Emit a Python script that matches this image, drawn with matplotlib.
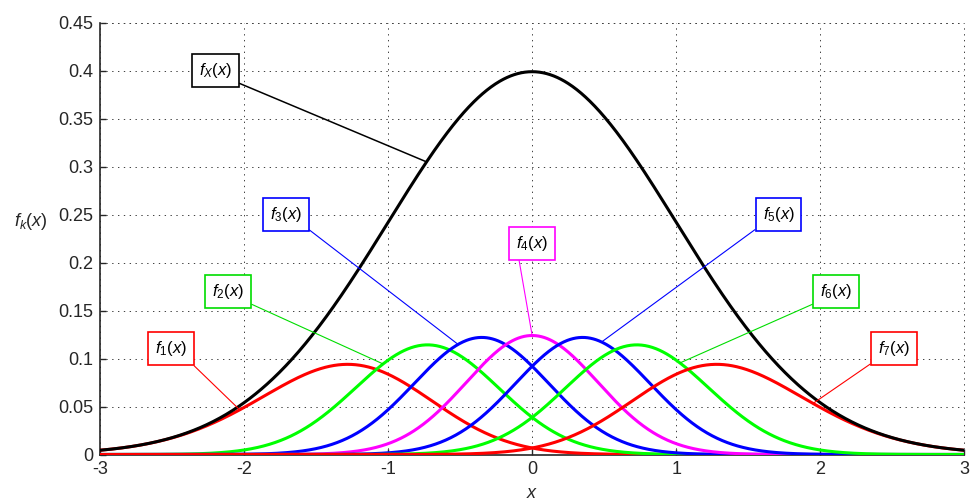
import math
import numpy as np
import matplotlib
matplotlib.use("Agg")
import matplotlib.pyplot as plt

plt.rcParams['font.family'] = ['Liberation Sans', 'DejaVu Sans']
plt.rcParams['mathtext.fontset'] = 'custom'
plt.rcParams['mathtext.it'] = 'Liberation Sans:italic'
plt.rcParams['mathtext.rm'] = 'Liberation Sans'
plt.rcParams['mathtext.default'] = 'it'

# Soft decision boundaries (location and spread) that split f_X into seven parts
boundaries = [-1.23, -0.639, -0.2, 0.2, 0.639, 1.23]
spreads = [0.58, 0.53, 0.5, 0.5, 0.53, 0.58]

part_names = [r'$f_1(x)$', r'$f_2(x)$', r'$f_3(x)$', r'$f_4(x)$',
              r'$f_5(x)$', r'$f_6(x)$', r'$f_7(x)$']
part_colors = ['#ff0000', '#00ff00', '#0000ff', '#ff00ff',
               '#0000ff', '#00ff00', '#ff0000']
box_colors = ['#ff0000', '#00dd00', '#0000ff', '#ff00ff',
              '#0000ff', '#00dd00', '#ff0000']
# where each pointer touches its curve
pointer_x = [-2.03, -1.035, -0.514, 0.0, 0.482, 1.026, 1.95]
# label box centres and pointer starting corner (relative to the box)
label_x = [-2.51, -2.11, -1.71, 0.0, 1.71, 2.11, 2.51]
label_y = [0.110, 0.170, 0.250, 0.220, 0.250, 0.170, 0.110]
label_corner = [(1, 0), (1, 0), (1, 0), (0.05, 0), (0, 0), (0, 0), (0.02, 0)]

total_name = r'$f_X(x)$'
total_pointer_x = -0.733
total_label = (-2.2, 0.40)

x_ticks = [-3, -2, -1, 0, 1, 2, 3]
y_ticks = [0, 0.05, 0.1, 0.15, 0.2, 0.25, 0.3, 0.35, 0.4, 0.45]
y_tick_labels = ['0', '0.05', '0.1', '0.15', '0.2', '0.25', '0.3', '0.35', '0.4', '0.45']

_erf = np.vectorize(math.erf)


def norm_cdf(z):
    return 0.5 * (1.0 + _erf(np.asarray(z) / math.sqrt(2.0)))


def f_total(x):
    x = np.asarray(x, dtype=float)
    return np.exp(-0.5 * x ** 2) / math.sqrt(2 * math.pi)


def part_weights(x):
    x = np.asarray(x, dtype=float)
    above = [norm_cdf((x - b) / s) for b, s in zip(boundaries, spreads)]
    w = [1.0 - above[0]]
    for j in range(1, len(above)):
        w.append(above[j - 1] - above[j])
    w.append(above[-1])
    return [np.clip(wi, 0, None) for wi in w]


def f_part(k, x):
    return f_total(x) * part_weights(x)[k]


x = np.linspace(-3, 3, 1201)

fig = plt.figure(figsize=(9.72, 5.04), dpi=100)
ax = fig.add_axes([100 / 972, 1 - 454.5 / 504, 864.3 / 972, (454.5 - 22.7) / 504])

for k in range(7):
    ax.plot(x, f_part(k, x), color=part_colors[k], lw=2.2, zorder=3,
            solid_capstyle='butt')
ax.plot(x, f_total(x), color='black', lw=2.2, zorder=4)

ax.set_xlim(-3, 3)
ax.set_ylim(0, 0.45)
ax.set_xticks(x_ticks)
ax.set_xticklabels([str(t) for t in x_ticks])
ax.set_yticks(y_ticks)
ax.set_yticklabels(y_tick_labels)
ax.tick_params(direction='in', length=4, width=1, colors='#262626',
               labelsize=13, pad=5)
for side in ('top', 'right'):
    ax.spines[side].set_visible(False)
for side in ('left', 'bottom'):
    ax.spines[side].set_linewidth(1.2)
    ax.spines[side].set_color('#262626')
ax.grid(True, color='#404040', lw=0.7, linestyle=(0, (1.4, 4.6)))
ax.set_axisbelow(True)

# dotted frame lines on top and right, drawn like the grid
ax.axhline(0.45, color='#404040', lw=0.7, linestyle=(0, (1.4, 4.6)), clip_on=False)
ax.axvline(3, color='#404040', lw=0.7, linestyle=(0, (1.4, 4.6)), clip_on=False)

box_kw = dict(boxstyle='square,pad=0.42', fc='white', lw=1.2)

ax.annotate(total_name, xy=(total_pointer_x, f_total(total_pointer_x)),
            xytext=total_label, ha='center', va='center', fontsize=12,
            bbox=dict(ec='black', **box_kw), zorder=6,
            arrowprops=dict(arrowstyle='-', color='black', lw=1.1,
                            relpos=(1, 0), shrinkA=0, shrinkB=0))

for k in range(7):
    px = pointer_x[k]
    ax.annotate(part_names[k], xy=(px, f_part(k, px)),
                xytext=(label_x[k], label_y[k]), ha='center', va='center',
                fontsize=12, bbox=dict(ec=box_colors[k], **box_kw), zorder=6,
                arrowprops=dict(arrowstyle='-', color=box_colors[k], lw=0.8,
                                relpos=label_corner[k], shrinkA=0, shrinkB=0))

fig.text(31 / 972, 1 - 222 / 504, r'$f_k(x)$', ha='center', va='center',
         fontsize=13, color='#262626')
fig.text(532 / 972, 1 - 493 / 504, r'$x$', ha='center', va='center',
         fontsize=13, color='#262626')

fig.savefig('out.png', dpi=100)
